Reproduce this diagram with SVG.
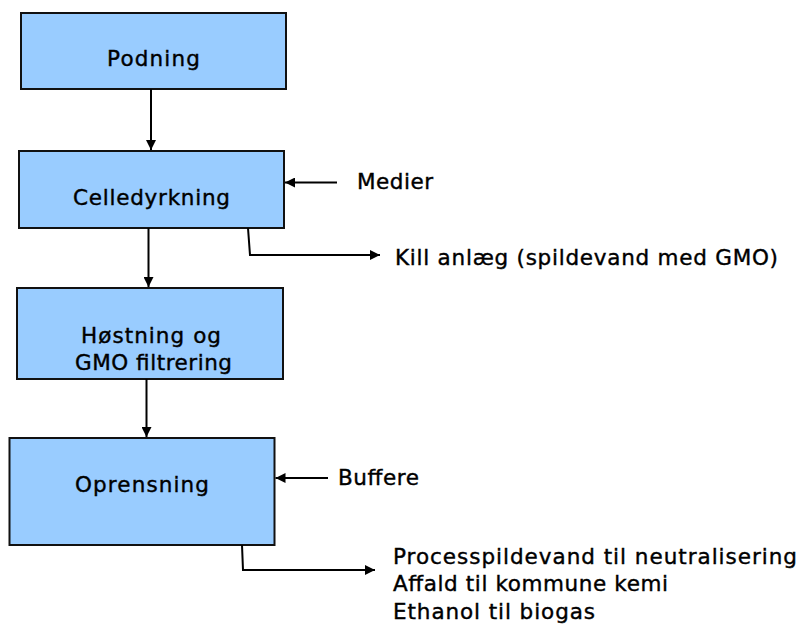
<svg xmlns="http://www.w3.org/2000/svg" width="799" height="624" viewBox="0 0 799 624">
<defs>
<style>
.box{fill:#99CCFF;stroke:#111;stroke-width:2}
.t{font-family:"DejaVu Sans","Liberation Sans",sans-serif;font-size:21.5px;fill:#000;stroke:#000;stroke-width:0.4}
.c{fill:none;stroke:#000;stroke-width:2}
</style>
<marker id="ah" viewBox="0 0 10 10" refX="10" refY="5" markerWidth="10" markerHeight="10" markerUnits="userSpaceOnUse" orient="auto">
<path d="M0,0 L10,5 L0,10 Z" fill="#000"/>
</marker>
</defs>
<rect width="799" height="624" fill="#fff"/>
<g id="podning">
<rect class="box" x="21" y="13" width="265" height="76"/>
<text class="t" x="107" y="66" textLength="93" lengthAdjust="spacing">Podning</text>
</g>
<g id="celledyrkning">
<rect class="box" x="19" y="151" width="265" height="77"/>
<text class="t" x="73" y="205" textLength="157" lengthAdjust="spacing">Celledyrkning</text>
</g>
<g id="hostning">
<rect class="box" x="17" y="288" width="266" height="91"/>
<text class="t" x="81" y="343" textLength="140" lengthAdjust="spacing">Høstning og</text>
<text class="t" x="75" y="370" textLength="157" lengthAdjust="spacing">GMO filtrering</text>
</g>
<g id="oprensning">
<rect class="box" x="9.5" y="438" width="265" height="107"/>
<text class="t" x="75" y="492" textLength="134" lengthAdjust="spacing">Oprensning</text>
</g>
<g id="medier">
<text class="t" x="357" y="189" textLength="76" lengthAdjust="spacing">Medier</text>
</g>
<g id="kill">
<text class="t" x="395" y="265" textLength="383" lengthAdjust="spacing">Kill anlæg (spildevand med GMO)</text>
</g>
<g id="buffere">
<text class="t" x="338" y="485" textLength="81" lengthAdjust="spacing">Buffere</text>
</g>
<g id="outputs">
<text class="t" x="393" y="564" textLength="404" lengthAdjust="spacing">Processpildevand til neutralisering</text>
<text class="t" x="393" y="591" textLength="275" lengthAdjust="spacing">Affald til kommune kemi</text>
<text class="t" x="393" y="619" textLength="202" lengthAdjust="spacing">Ethanol til biogas</text>
</g>
<g id="connectors">
<line class="c" x1="151" y1="89" x2="151" y2="150" marker-end="url(#ah)"/>
<line class="c" x1="148.5" y1="228" x2="148.5" y2="287" marker-end="url(#ah)"/>
<line class="c" x1="146.5" y1="379" x2="146.5" y2="437" marker-end="url(#ah)"/>
<line class="c" x1="337" y1="182.5" x2="285" y2="182.5" marker-end="url(#ah)"/>
<polyline class="c" points="248,228 250,255 380,255" marker-end="url(#ah)"/>
<line class="c" x1="328" y1="478" x2="275.5" y2="478" marker-end="url(#ah)"/>
<polyline class="c" points="242,545 243,570 375,570" marker-end="url(#ah)"/>
</g>
</svg>
